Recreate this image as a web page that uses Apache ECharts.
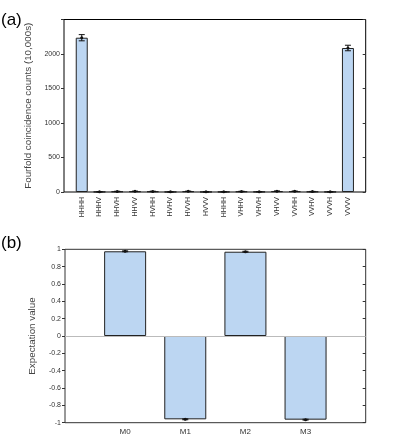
<!DOCTYPE html>
<html>
<head>
<meta charset="utf-8">
<script src="https://cdn.jsdelivr.net/npm/echarts@6/dist/echarts.min.js"></script>
<style>
  html, body { margin: 0; padding: 0; background: #fff; }
  #chart { width: 415px; height: 444px; }
</style>
</head>
<body>
<div id="chart"></div>
<script>
// panel (a): fourfold coincidence counts
const basisLabels = ["HHHH", "HHHV", "HHVH", "HHVV", "HVHH", "HVHV", "HVVH", "HVVV",
                     "HHHH", "VHHV", "VHVH", "VHVV", "VVHH", "VVHV", "VVVH", "VVVV"];
const countValues = [2236, 3, 8, 10, 9, 2, 10, 2, 3, 8, 4, 12, 11, 6, 3, 2087];
const countErrors = [45, 3, 3, 3, 3, 2, 3, 2, 2, 3, 2, 3, 3, 3, 2, 40];
const countTicks = [0, 500, 1000, 1500, 2000];

// panel (b): expectation values
const measLabels = ["M0", "M1", "M2", "M3"];
const expValues = [0.977, -0.961, 0.972, -0.965];
const expErrors = [0.005, 0.005, 0.005, 0.005];

const barColor = "#bcd6f2";
const edgeColor = "#222";

function pairs(vals) {
    return vals.map((v, i) => [i + 1, v]);
}
function errData(vals, errs) {
    return vals.map((v, i) => [i + 1, v, v - errs[i], v + errs[i]]);
}
function renderErr(params, api) {
    const x = api.value(0);
    const c = api.coord([x, api.value(1)]);
    const lo = api.coord([x, api.value(2)]);
    const hi = api.coord([x, api.value(3)]);
    const cap = 3;
    const st = { stroke: "#111", lineWidth: 1 };
    return {
        type: "group",
        children: [
            { type: "line", shape: { x1: c[0], y1: lo[1], x2: c[0], y2: hi[1] }, style: st },
            { type: "line", shape: { x1: c[0] - cap, y1: lo[1], x2: c[0] + cap, y2: lo[1] }, style: st },
            { type: "line", shape: { x1: c[0] - cap, y1: hi[1], x2: c[0] + cap, y2: hi[1] }, style: st },
            { type: "circle", shape: { cx: c[0], cy: c[1], r: 1.5 }, style: { fill: "#111" } }
        ]
    };
}

const chart = echarts.init(document.getElementById("chart"));
const tickLabel = { fontFamily: "Liberation Sans", fontSize: 7, color: "#333" };

chart.setOption({
    animation: false,
    graphic: [
        { type: "text", left: 1, top: 12, style: { text: "(a)", fontFamily: "Liberation Sans", fontSize: 17, fill: "#000" } },
        { type: "text", left: 1, top: 235, style: { text: "(b)", fontFamily: "Liberation Sans", fontSize: 17, fill: "#000" } }
    ],
    grid: [
        { left: 64, top: 19.5, right: 49.3, bottom: 252, show: true, borderColor: "#000", borderWidth: 1 },
        { left: 65, top: 249.3, right: 49.3, bottom: 21.3, show: true, borderColor: "#333", borderWidth: 1 }
    ],
    xAxis: [
        {
            type: "value", gridIndex: 0, min: 0, max: 17, interval: 1,
            axisLine: { show: false }, axisTick: { show: false }, splitLine: { show: false },
            axisLabel: Object.assign({}, tickLabel, {
                rotate: 90, margin: 5,
                formatter: v => (v >= 1 && v <= basisLabels.length) ? basisLabels[v - 1] : ""
            })
        },
        {
            type: "value", gridIndex: 1, min: 0, max: 5, interval: 1,
            axisLine: { show: false }, axisTick: { show: false }, splitLine: { show: false },
            axisLabel: Object.assign({}, tickLabel, {
                fontSize: 8, margin: 5,
                formatter: v => (v >= 1 && v <= measLabels.length) ? measLabels[v - 1] : ""
            })
        }
    ],
    yAxis: [
        {
            type: "value", gridIndex: 0, min: 0, max: 2500, interval: 500,
            name: "Fourfold coincidence counts (10,000s)", nameLocation: "middle", nameGap: 25,
            nameTextStyle: { fontFamily: "Liberation Sans", fontSize: 9.8, color: "#444" },
            axisLine: { show: false }, splitLine: { show: false },
            axisTick: { show: true, length: 3, lineStyle: { color: "#333" } },
            axisLabel: Object.assign({}, tickLabel, {
                margin: 4,
                formatter: v => countTicks.indexOf(v) >= 0 ? String(v) : ""
            })
        },
        {
            type: "value", gridIndex: 0, position: "right", min: 0, max: 2500, interval: 500,
            axisLine: { show: false }, splitLine: { show: false }, axisLabel: { show: false },
            axisTick: { show: true, inside: true, length: 3, lineStyle: { color: "#333" } }
        },
        {
            type: "value", gridIndex: 1, min: -1, max: 1, interval: 0.2,
            name: "Expectation value", nameLocation: "middle", nameGap: 28,
            nameTextStyle: { fontFamily: "Liberation Sans", fontSize: 9.8, color: "#444" },
            axisLine: { show: false }, splitLine: { show: false },
            axisTick: { show: true, length: 3, lineStyle: { color: "#333" } },
            axisLabel: Object.assign({}, tickLabel, {
                margin: 4,
                formatter: v => String(Math.round(v * 10) / 10)
            })
        },
        {
            type: "value", gridIndex: 1, position: "right", min: -1, max: 1, interval: 0.2,
            axisLine: { show: false }, splitLine: { show: false }, axisLabel: { show: false },
            axisTick: { show: true, inside: true, length: 3, lineStyle: { color: "#333" } }
        }
    ],
    series: [
        {
            type: "bar", xAxisIndex: 0, yAxisIndex: 0, barWidth: 12,
            data: pairs(countValues),
            itemStyle: { color: barColor, borderColor: edgeColor, borderWidth: 1 }
        },
        {
            type: "custom", xAxisIndex: 0, yAxisIndex: 0, z: 5,
            renderItem: renderErr, data: errData(countValues, countErrors)
        },
        {
            type: "bar", xAxisIndex: 1, yAxisIndex: 2, barWidth: 42,
            data: pairs(expValues),
            itemStyle: { color: barColor, borderColor: edgeColor, borderWidth: 1 },
            markLine: {
                silent: true, symbol: "none", label: { show: false },
                lineStyle: { color: "#bbb", type: "solid", width: 1 },
                data: [{ yAxis: 0 }]
            }
        },
        {
            type: "custom", xAxisIndex: 1, yAxisIndex: 2, z: 5,
            renderItem: renderErr, data: errData(expValues, expErrors)
        }
    ]
});
</script>
</body>
</html>
